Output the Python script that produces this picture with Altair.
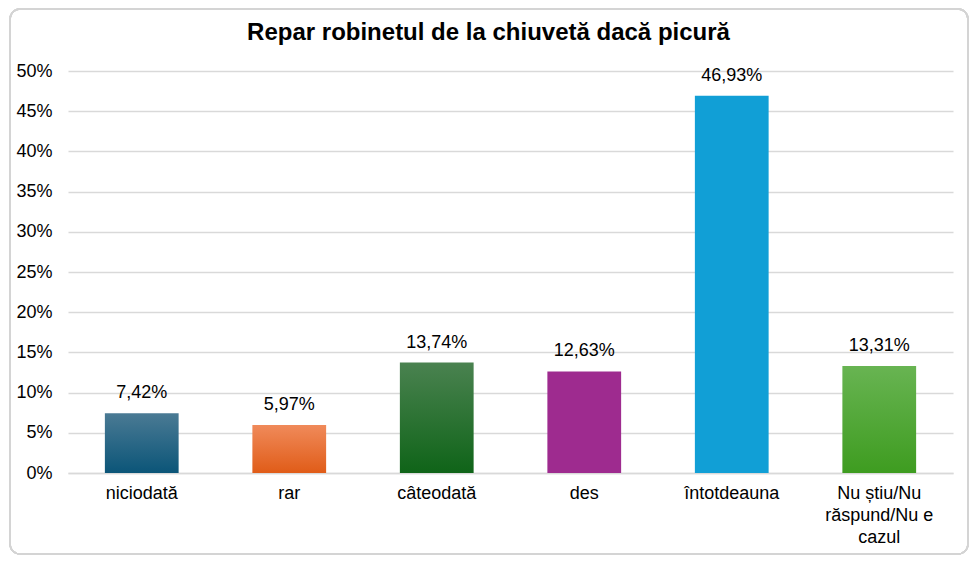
import altair as alt
import pandas as pd

categories = ["niciodată", "rar", "câteodată", "des", "întotdeauna", "Nu știu/Nu\nrăspund/Nu e\ncazul"]
values = [7.42, 5.97, 13.74, 12.63, 46.93, 13.31]
# top / bottom colours of each bar's gradient
top_colors = ["#4a7a94", "#f08a5a", "#4a8250", "#9e2b8f", "#119fd6", "#68b452"]
bottom_colors = ["#0b5578", "#e05c18", "#0f6418", "#9e2b8f", "#119fd6", "#3e9c20"]
y_ticks = [0, 5, 10, 15, 20, 25, 30, 35, 40, 45, 50]
title_text = "Repar robinetul de la chiuvetă dacă picură"

df = pd.DataFrame({"cat": categories, "val": values})
df["label"] = df["val"].map(lambda v: f"{v:.2f}".replace(".", ",") + "%")

W, H = 885, 402
FONT = "Liberation Sans"

x_enc = alt.X("cat:N", sort=categories, title=None,
              scale=alt.Scale(paddingInner=0.5, paddingOuter=0.25),
              axis=alt.Axis(labelAngle=0, labelExpr="split(datum.value, '\\n')",
                            labelFontSize=18, labelColor="#000", labelFont=FONT,
                            labelPadding=11, labelLineHeight=22, ticks=False,
                            domainColor="#d9d9d9", domainWidth=1.5))
y_enc = alt.Y("val:Q", title=None,
              scale=alt.Scale(domain=[0, 50], nice=False),
              axis=alt.Axis(values=y_ticks, labelExpr="datum.value + '%'",
                            labelFontSize=18, labelColor="#000", labelFont=FONT,
                            labelPadding=16, ticks=False, domain=False,
                            grid=True, gridColor="#d9d9d9", gridWidth=1.5))

layers = []
for cat, top, bottom in zip(categories, top_colors, bottom_colors):
    grad = alt.Gradient(gradient="linear", x1=0, x2=0, y1=0, y2=1,
                        stops=[alt.GradientStop(color=top, offset=0),
                               alt.GradientStop(color=bottom, offset=1)])
    layers.append(
        alt.Chart(df).transform_filter(alt.datum.cat == cat)
        .mark_bar(color=grad).encode(x=x_enc, y=y_enc)
    )

labels = alt.Chart(df).mark_text(
    baseline="bottom", dy=-11, fontSize=18, font=FONT, color="#000"
).encode(x=alt.X("cat:N", sort=categories), y="val:Q", text="label:N")

title = alt.Chart(pd.DataFrame({"t": [title_text]})).mark_text(
    fontSize=24, fontWeight="bold", font=FONT, color="#000", baseline="alphabetic"
).encode(text="t:N", x=alt.value(W / 2 - 22), y=alt.value(-31))

border = alt.Chart(df).mark_rect(
    fill=None, stroke="#d4d4d4", strokeWidth=1.5, cornerRadius=10
).encode(x=alt.value(-58), x2=alt.value(W + 15), y=alt.value(-62), y2=alt.value(H + 81))

chart = alt.layer(*layers, labels, title, border).properties(
    width=W, height=H,
    autosize=alt.AutoSizeParams(type="none"),
    padding={"left": 60, "top": 63, "right": 16, "bottom": 82},
).configure_view(stroke=None)

chart.save("out.html", embed_options={"renderer": "svg", "actions": False})
